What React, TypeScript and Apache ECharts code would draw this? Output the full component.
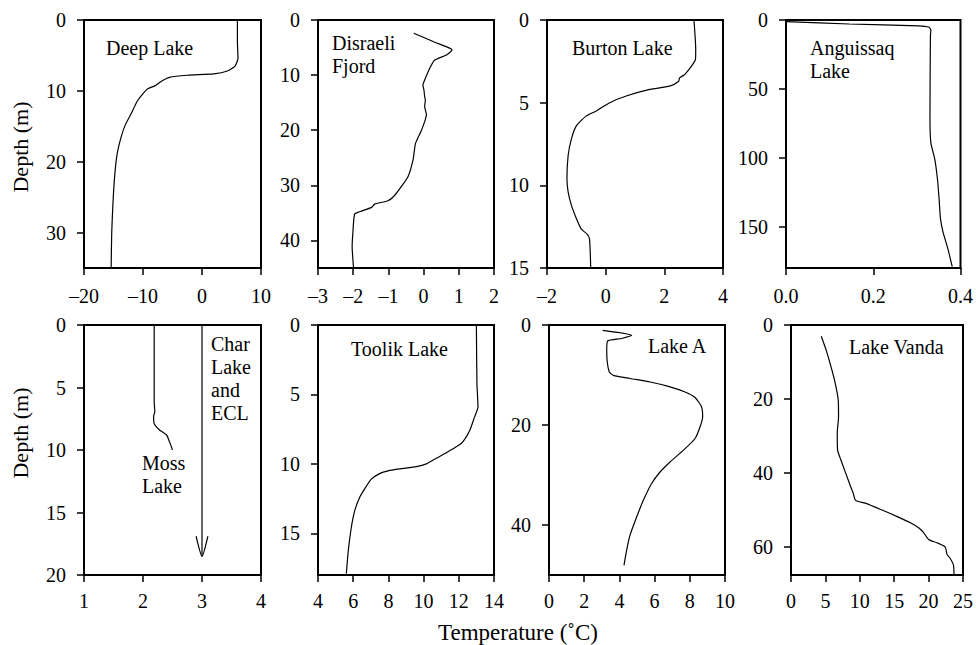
import React, { useEffect, useRef } from "react";
import * as echarts from "echarts";

// ---------- DATA: [temperature °C, depth m] ----------
const deepLake = [
  [6.0, 0], [6.0, 3], [6.1, 5.4], [5.6, 6.5], [4.3, 7.2], [2.0, 7.6], [-2.5, 7.8],
  [-5.5, 8.1], [-7.0, 8.7], [-8.0, 9.3], [-9.2, 9.7], [-10.0, 10.4], [-11.0, 11.5],
  [-12.0, 13.2], [-13.0, 14.8], [-13.7, 16.5], [-14.4, 19], [-14.8, 22], [-15.1, 26],
  [-15.3, 30], [-15.4, 35],
];
const disraeliFjord = [
  [-0.28, 2.4], [0.27, 3.9], [0.74, 5.1], [0.81, 5.4], [0.65, 6.35], [0.31, 7.3],
  [0.17, 8.8], [0.03, 10.9], [-0.02, 11.8], [0.01, 12.7], [0.03, 13.9], [0.05, 14.5],
  [0.03, 15.7], [0.08, 17.2], [-0.06, 20], [-0.23, 22.4], [-0.3, 25.4], [-0.44, 28.4],
  [-0.63, 30.2], [-0.82, 31.8], [-1.01, 32.8], [-1.39, 33.4], [-1.48, 34], [-1.82, 34.8],
  [-1.96, 35.2], [-2.01, 38.7], [-2.03, 41.1], [-1.99, 45],
];
const burtonLake = [
  [3.01, 0], [3.07, 1.8], [3.06, 2.4], [2.92, 2.8], [2.69, 3.3], [2.52, 3.5], [2.49, 3.7],
  [2.18, 4.0], [1.5, 4.2], [0.7, 4.6], [0.14, 5.0], [-0.32, 5.5], [-0.66, 5.8], [-1.0, 6.4],
  [-1.17, 7.2], [-1.28, 8.2], [-1.32, 9.6], [-1.28, 10.4], [-1.17, 11.2], [-1.0, 12.0],
  [-0.83, 12.65], [-0.63, 12.95], [-0.55, 13.25], [-0.51, 15],
];
const anguissaqLake = [
  [0.0, 1.2], [0.145, 2.9], [0.304, 4.3], [0.328, 5.3], [0.332, 7.2], [0.331, 12],
  [0.33, 70], [0.332, 89], [0.341, 101], [0.347, 115], [0.351, 130], [0.354, 144],
  [0.36, 154], [0.371, 166], [0.381, 179],
];
const mossLake = [
  [2.19, 0], [2.19, 6.15], [2.2, 6.95], [2.18, 7.3], [2.19, 7.9], [2.28, 8.4], [2.4, 8.8],
  [2.45, 9.35], [2.5, 10.0],
];
const charLakeLine = [[3.0, 0], [3.0, 18.5]];
const charLakeArrowHead = [[2.9, 16.9], [3.0, 18.5], [3.1, 16.9]];
const toolikLake = [
  [13.0, 0], [13.03, 4.2], [13.09, 5.9], [12.9, 6.6], [12.62, 7.6], [12.24, 8.4],
  [11.95, 8.7], [11.29, 9.2], [10.72, 9.6], [10.16, 10.0], [9.59, 10.2], [8.64, 10.36],
  [7.98, 10.5], [7.5, 10.7], [7.03, 11.1], [6.75, 11.6], [6.37, 12.4], [6.08, 13.4],
  [5.89, 14.6], [5.72, 16.25], [5.61, 17.9],
];
const lakeA = [
  [3.05, 1.07], [4.7, 2.07], [4.13, 2.7], [3.33, 3.2], [3.28, 5.07], [3.31, 7.4],
  [3.43, 9.4], [3.66, 10.07], [4.6, 10.7], [5.74, 11.4], [6.78, 12.27], [7.73, 13.4],
  [8.3, 14.5], [8.67, 16.4], [8.73, 18.4], [8.58, 20.4], [8.3, 22.7], [7.63, 25.07],
  [6.88, 27.4], [6.31, 29.4], [5.83, 31.7], [5.36, 35.07], [4.98, 38.4], [4.6, 42.07],
  [4.41, 45.07], [4.26, 48.07],
];
const lakeVanda = [
  [4.4, 3.05], [5.11, 6.8], [5.82, 11.3], [6.44, 15.8], [6.87, 20.3], [6.91, 24.75],
  [6.72, 29.2], [6.77, 33.7], [7.24, 36.4], [7.95, 40], [8.66, 43.6], [9.04, 45.4],
  [9.38, 47.35], [10.8, 48.1], [13.16, 49.9], [15.53, 51.8], [17.42, 53.45], [18.6, 54.8],
  [19.3, 56.1], [20.0, 57.9], [21.2, 58.8], [22.4, 59.9], [22.7, 62.0], [23.1, 62.9],
  [23.6, 64.7], [23.7, 67.35],
];

// tick labels
const xTicks1 = [-20, -10, 0, 10];
const yTicks1 = [0, 10, 20, 30];
const xTicks2 = [-3, -2, -1, 0, 1, 2];
const yTicks2 = [0, 10, 20, 30, 40];
const xTicks3 = [-2, 0, 2, 4];
const yTicks3 = [0, 5, 10, 15];
const xTicks4 = [0, 0.2, 0.4];
const yTicks4 = [0, 50, 100, 150];
const xTicks5 = [1, 2, 3, 4];
const yTicks5 = [0, 5, 10, 15, 20];
const xTicks6 = [4, 6, 8, 10, 12, 14];
const yTicks6 = [0, 5, 10, 15];
const xTicks7 = [0, 2, 4, 6, 8, 10];
const yTicks7 = [0, 20, 40];
const xTicks8 = [0, 5, 10, 15, 20, 25];
const yTicks8 = [0, 20, 40, 60];

const FONT_FAMILY = '"Liberation Serif", "Times New Roman", serif';

const panels = [
  { series: [deepLake], xMin: -20, xMax: 10, yMax: 35, xTicks: xTicks1, yTicks: yTicks1, dec: 0, xm: 18,
    grid: { left: 84, top: 20, width: 177, height: 248 } },
  { series: [disraeliFjord], xMin: -3, xMax: 2, yMax: 45, xTicks: xTicks2, yTicks: yTicks2, dec: 0, xm: 18,
    grid: { left: 318, top: 20, width: 176, height: 248 } },
  { series: [burtonLake], xMin: -2, xMax: 4, yMax: 15, xTicks: xTicks3, yTicks: yTicks3, dec: 0, xm: 18,
    grid: { left: 547, top: 20, width: 176, height: 248 } },
  { series: [anguissaqLake], xMin: 0, xMax: 0.4, yMax: 180, xTicks: xTicks4, yTicks: yTicks4, dec: 1, xm: 18,
    grid: { left: 786, top: 20, width: 177, height: 248 } },
  { series: [mossLake, charLakeLine, charLakeArrowHead], xMin: 1, xMax: 4, yMax: 20, xTicks: xTicks5, yTicks: yTicks5, dec: 0, xm: 16,
    grid: { left: 84, top: 325, width: 177, height: 250 } },
  { series: [toolikLake], xMin: 4, xMax: 14, yMax: 18, xTicks: xTicks6, yTicks: yTicks6, dec: 0, xm: 16,
    grid: { left: 318, top: 325, width: 176, height: 250 } },
  { series: [lakeA], xMin: 0, xMax: 10, yMax: 50, xTicks: xTicks7, yTicks: yTicks7, dec: 0, xm: 16,
    grid: { left: 549, top: 325, width: 176, height: 250 } },
  { series: [lakeVanda], xMin: 0, xMax: 25, yMax: 67.5, xTicks: xTicks8, yTicks: yTicks8, dec: 0, xm: 16,
    grid: { left: 791, top: 325, width: 176, height: 250 } },
];

const labels = [
  { text: "Deep Lake", x: 106, y: 36 },
  { text: "Disraeli\nFjord", x: 332, y: 31 },
  { text: "Burton Lake", x: 572, y: 36 },
  { text: "Anguissaq\nLake", x: 810, y: 36 },
  { text: "Char\nLake\nand\nECL", x: 211, y: 332 },
  { text: "Moss\nLake", x: 142, y: 451 },
  { text: "Toolik Lake", x: 351, y: 337 },
  { text: "Lake A", x: 648, y: 334 },
  { text: "Lake Vanda", x: 849, y: 335 },
];

function fmt(v: number, dec: number) {
  const s = dec > 0 ? v.toFixed(dec) : String(v);
  return s.replace("-", "\u2013");
}

function buildOption() {
  const grid: any[] = [];
  const xAxis: any[] = [];
  const yAxis: any[] = [];
  const series: any[] = [];
  const labelStyle = { color: "#000", fontSize: 20, fontFamily: FONT_FAMILY };
  panels.forEach((p, i) => {
    grid.push({ ...p.grid, show: true, borderColor: "#000", borderWidth: 2, backgroundColor: "transparent" });
    xAxis.push({
      type: "value", gridIndex: i, min: p.xMin, max: p.xMax, position: "bottom",
      axisLine: { show: true, onZero: false, lineStyle: { color: "#000", width: 2 } },
      axisTick: { show: true, inside: false, length: 7, customValues: p.xTicks, lineStyle: { color: "#000", width: 1.5 } },
      axisLabel: { ...labelStyle, margin: p.xm, customValues: p.xTicks, formatter: (v: number) => fmt(v, p.dec) },
      splitLine: { show: false },
    });
    yAxis.push({
      type: "value", gridIndex: i, min: 0, max: p.yMax, inverse: true, position: "left",
      axisLine: { show: true, onZero: false, lineStyle: { color: "#000", width: 2 } },
      axisTick: { show: true, inside: false, length: 7, customValues: p.yTicks, lineStyle: { color: "#000", width: 1.5 } },
      axisLabel: { ...labelStyle, margin: 18, customValues: p.yTicks, formatter: (v: number) => fmt(v, 0) },
      splitLine: { show: false },
    });
    p.series.forEach((d) => {
      series.push({
        type: "line", xAxisIndex: i, yAxisIndex: i, data: d, showSymbol: false, symbol: "none",
        smooth: 0.2, lineStyle: { color: "#000", width: 1.2 }, silent: true,
      });
    });
  });

  const graphic: any[] = labels.map((l) => ({
    type: "text", x: l.x, y: l.y,
    style: { text: l.text, font: `20px ${FONT_FAMILY}`, fill: "#000", lineHeight: 23, align: "left", verticalAlign: "top" },
  }));
  graphic.push({
    type: "text", x: 20, y: 147, rotation: Math.PI / 2,
    style: { text: "Depth (m)", font: `22px ${FONT_FAMILY}`, fill: "#000", align: "center", verticalAlign: "middle" },
  });
  graphic.push({
    type: "text", x: 20, y: 433, rotation: Math.PI / 2,
    style: { text: "Depth (m)", font: `22px ${FONT_FAMILY}`, fill: "#000", align: "center", verticalAlign: "middle" },
  });
  graphic.push({
    type: "text", x: 518, y: 632,
    style: { text: "Temperature (\u02DAC)", font: `23px ${FONT_FAMILY}`, fill: "#000", align: "center", verticalAlign: "middle" },
  });

  return { animation: false, backgroundColor: "#fff", grid, xAxis, yAxis, series, graphic };
}

export default function App() {
  const ref = useRef<HTMLDivElement>(null);
  useEffect(() => {
    if (!ref.current) return;
    const chart = echarts.init(ref.current, null, { renderer: "svg" });
    chart.setOption(buildOption());
    return () => chart.dispose();
  }, []);
  return <div ref={ref} style={{ position: "absolute", left: 0, top: 0, width: 976, height: 645 }} />;
}
